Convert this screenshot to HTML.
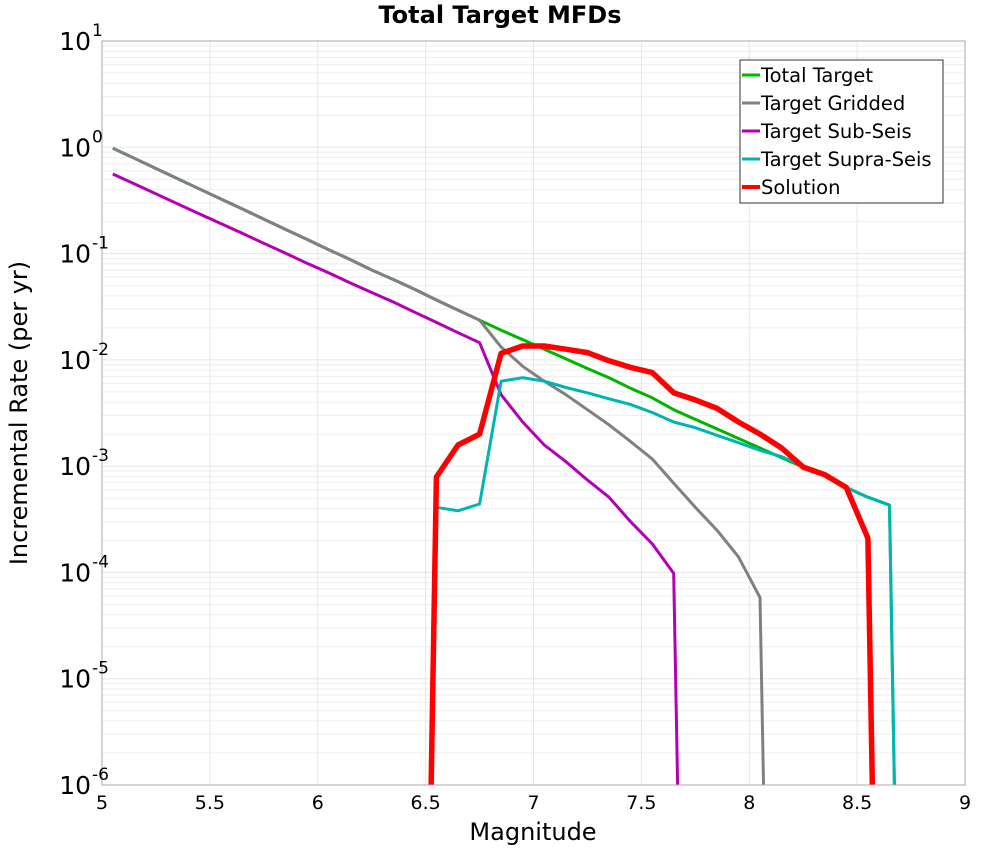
<!DOCTYPE html>
<html><head><meta charset="utf-8"><style>
html,body{margin:0;padding:0;background:#fff;overflow:hidden;width:1000px;height:850px;}
svg{display:block;font-family:"DejaVu Sans","Liberation Sans",sans-serif;}
</style></head><body>
<svg id="chart" width="1000" height="850" viewBox="0 0 1000 850">
<text x="500" y="23" text-anchor="middle" font-size="24" font-weight="bold">Total Target MFDs</text>
<g id="grid"></g>
<defs><clipPath id="clip"><rect x="102" y="41" width="863" height="744"/></clipPath></defs>
<g id="series" clip-path="url(#clip)"></g>
<rect x="102" y="41" width="863" height="744" fill="none" stroke="#aaa" stroke-width="1"/>
<g id="axes"></g>
<text x="533" y="840" text-anchor="middle" font-size="24">Magnitude</text>
<text transform="translate(27,413) rotate(-90)" text-anchor="middle" font-size="24">Incremental Rate (per yr)</text>
<g id="legend">
<rect x="740" y="60" width="203" height="143" fill="#fff" stroke="#333" stroke-width="1"/>
</g>
</svg>
<script>
const mags = [5.05,5.15,5.25,5.35,5.45,5.55,5.65,5.75,5.85,5.95,6.05,6.15,6.25,6.35,6.45,6.55,6.65,6.75,6.85,6.95,7.05,7.15,7.25,7.35,7.45,7.55,7.65,7.75,7.85,7.95,8.05,8.15,8.25,8.35,8.45,8.55,8.65,8.75];
const totalTarget = [0.98,0.787,0.632,0.507,0.407,0.327,0.263,0.211,0.169,0.136,0.109,0.088,0.070,0.057,0.046,0.0366,0.0294,0.0236,0.019,0.0155,0.0126,0.0102,0.0083,0.0068,0.0054,0.0044,0.0034,0.00275,0.00224,0.00182,0.00148,0.0012,0.00098,0.00083,0.00063,0.00051,0.00043,1e-15];
const targetGridded = [0.98,0.787,0.632,0.507,0.407,0.327,0.263,0.211,0.169,0.136,0.109,0.088,0.070,0.057,0.046,0.0366,0.0294,0.0236,0.0132,0.0087,0.0063,0.0047,0.0034,0.00245,0.0017,0.00117,0.00069,0.00041,0.00025,0.00014,5.8e-5,1e-15,null,null,null,null,null,null];
const targetSubSeis = [0.56,0.452,0.365,0.294,0.237,0.192,0.155,0.125,0.101,0.081,0.066,0.053,0.043,0.035,0.028,0.0225,0.018,0.0145,0.0047,0.0026,0.00158,0.0011,0.00074,0.00051,0.0003,0.000186,9.8e-5,1e-15,null,null,null,null,null,null,null,null,null,null];
const targetSupraSeis = [null,null,null,null,null,null,null,null,null,null,null,null,null,null,null,4.1e-4,3.8e-4,4.4e-4,0.0063,0.0068,0.0063,0.0055,0.0049,0.0043,0.0038,0.0032,0.0026,0.0023,0.00195,0.00166,0.00141,0.00123,0.001,0.00083,0.00063,0.00051,0.00043,1e-15];
const solution = [null,null,null,null,null,null,null,null,null,null,null,null,null,null,1e-15,7.9e-4,0.00158,0.002,0.0115,0.0135,0.0135,0.0126,0.0117,0.0098,0.0085,0.0076,0.0049,0.0042,0.0035,0.0026,0.002,0.00148,0.00098,0.00083,0.00063,0.00021,1e-15,null];
const xTicks = [5,5.5,6,6.5,7,7.5,8,8.5,9];
const xTickLabels = ["5","5.5","6","6.5","7","7.5","8","8.5","9"];
const yExps = [1,0,-1,-2,-3,-4,-5,-6];

const NS="http://www.w3.org/2000/svg";
const X0=102,X1=965,Y0=41,Y1=785;
function xs(m){return X0+(m-5)/4*(X1-X0);}
function ys(v){return Y0+(1-Math.log10(v))/7*(Y1-Y0);}
function mk(t,a,p){const e=document.createElementNS(NS,t);for(const k in a)e.setAttribute(k,a[k]);p.appendChild(e);return e;}
const grid=document.getElementById('grid'),axes=document.getElementById('axes'),ser=document.getElementById('series'),leg=document.getElementById('legend');
for(let d=-6;d<1;d++){for(let k=2;k<=9;k++){const y=ys(k*Math.pow(10,d));
const l=mk('line',{x1:X0,x2:X1,y1:y,y2:y,stroke:'#eeeeee','stroke-width':1},grid);

}}
yExps.forEach(e=>{const y=ys(Math.pow(10,e));
const l=mk('line',{x1:X0,x2:X1,y1:y,y2:y,stroke:'#e6e6e6','stroke-width':1},grid);


const t=mk('text',{x:91,y:y+9,'text-anchor':'end','font-size':25},axes);


t.textContent='10';
const s=mk('text',{x:92,y:y-5,'font-size':17},axes);


s.textContent=String(e);});
xTicks.forEach((m,i)=>{const x=xs(m);
const l=mk('line',{x1:x,x2:x,y1:Y0,y2:Y1,stroke:'#e6e6e6','stroke-width':1},grid);


const t=mk('text',{x:x,y:809,'text-anchor':'middle','font-size':19},axes);


t.textContent=xTickLabels[i];});
const seriesList=[
 {name:'Total Target',data:totalTarget,color:'#00b400',w:3,id:'total-target-line'},
 {name:'Target Gridded',data:targetGridded,color:'#808080',w:3,id:'target-gridded-line'},
 {name:'Target Sub-Seis',data:targetSubSeis,color:'#b400b4',w:3,id:'target-sub-seis-line'},
 {name:'Target Supra-Seis',data:targetSupraSeis,color:'#00b4b4',w:3,id:'target-supra-seis-line'},
 {name:'Solution',data:solution,color:'#ff0000',w:5.5,id:'solution-line'}];
seriesList.forEach((s,i)=>{let d='',pen=false;
s.data.forEach((v,j)=>{if(v==null||v<=0){pen=false;return;}
d+=(pen?'L':'M')+xs(mags[j]).toFixed(1)+','+ys(v).toFixed(1);pen=true;});
const p=mk('path',{d:d,fill:'none',stroke:s.color,'stroke-width':s.w,'stroke-linejoin':'round'},ser);


const y=75+i*28;
const l=mk('line',{x1:742,x2:760,y1:y,y2:y,stroke:s.color,'stroke-width':s.w>4?4:3},leg);


const t=mk('text',{x:761,y:y+7,'font-size':19.5},leg);


t.textContent=s.name;});
</script>
</body></html>
